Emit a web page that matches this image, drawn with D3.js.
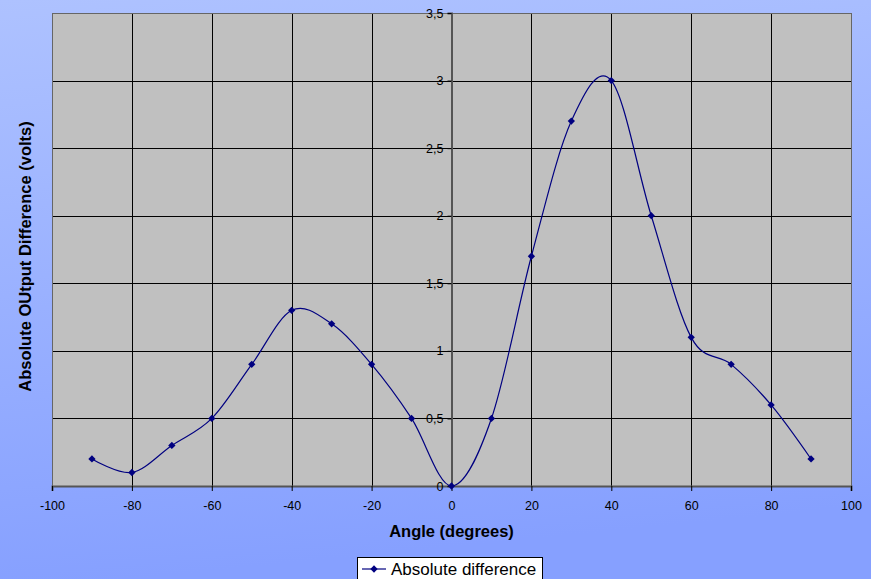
<!DOCTYPE html>
<html>
<head>
<meta charset="utf-8">
<script src="https://cdn.jsdelivr.net/npm/d3@7"></script>
<style>
    html, body { margin: 0; padding: 0; }
    body { width: 871px; height: 579px; overflow: hidden; }
    text { font-family: "Liberation Sans", Arial, sans-serif; }
</style>
</head>
<body>
<div id="chart"></div>
<script>
    // Values
    let angles = [-90, -80, -70, -60, -50, -40, -30, -20, -10, 0, 10, 20, 30, 40, 50, 60, 70, 80, 90];
    let absDiff = [0.2, 0.1, 0.3, 0.5, 0.9, 1.3, 1.2, 0.9, 0.5, 0, 0.5, 1.7, 2.7, 3.0, 2.0, 1.1, 0.9, 0.6, 0.2];
    let xTicks = [-100, -80, -60, -40, -20, 0, 20, 40, 60, 80, 100];
    let yTicks = [0, 0.5, 1, 1.5, 2, 2.5, 3, 3.5];

    let data = angles.map((a, i) => ({ x: a, y: absDiff[i] }));

    let size = { width: 871, height: 579 };
    let plot = { left: 52, right: 851, top: 13, bottom: 486 };
    let font = '"Liberation Sans", Arial, sans-serif';

    let svg = d3.select('#chart').append('svg')
        .attr('width', size.width)
        .attr('height', size.height);

    let grad = svg.append('defs').append('linearGradient')
        .attr('id', 'bg')
        .attr('x1', 0).attr('y1', 0).attr('x2', 0.15).attr('y2', 1);
    grad.append('stop').attr('offset', '0%').attr('stop-color', '#aec2ff');
    grad.append('stop').attr('offset', '100%').attr('stop-color', '#86a0ff');

    svg.append('rect')
        .attr('width', size.width).attr('height', size.height)
        .attr('fill', 'url(#bg)');

    let xScale = d3.scaleLinear().domain([-100, 100]).range([plot.left, plot.right]);
    let yScale = d3.scaleLinear().domain([0, 3.5]).range([plot.bottom, plot.top]);

    // plot area
    svg.append('rect')
        .attr('x', plot.left).attr('y', plot.top)
        .attr('width', plot.right - plot.left).attr('height', plot.bottom - plot.top)
        .attr('fill', '#c0c0c0');

    let grid = svg.append('g').attr('shape-rendering', 'crispEdges');
    grid.selectAll('line.h').data(yTicks.filter(d => d > 0 && d < 3.5)).join('line')
        .attr('x1', plot.left).attr('x2', plot.right)
        .attr('y1', d => Math.round(yScale(d)) + 0.5).attr('y2', d => Math.round(yScale(d)) + 0.5)
        .attr('stroke', '#000');
    grid.selectAll('line.v').data(xTicks.filter(d => d > -100 && d < 100 && d !== 0)).join('line')
        .attr('y1', plot.top).attr('y2', plot.bottom)
        .attr('x1', d => Math.round(xScale(d)) + 0.5).attr('x2', d => Math.round(xScale(d)) + 0.5)
        .attr('stroke', '#000');

    // border
    svg.append('rect')
        .attr('x', plot.left + 0.5).attr('y', plot.top + 0.5)
        .attr('width', plot.right - plot.left).attr('height', plot.bottom - plot.top)
        .attr('fill', 'none').attr('stroke', '#666').attr('stroke-width', 1)
        .attr('shape-rendering', 'crispEdges');

    // x axis along the bottom
    let xAxis = svg.append('g')
        .attr('transform', `translate(0,${plot.bottom})`)
        .call(d3.axisBottom(xScale).tickValues(xTicks).tickSize(5).tickPadding(10)
            .tickFormat(d => String(d)));
    xAxis.select('.domain').attr('stroke', '#555').attr('stroke-width', 2);
    xAxis.selectAll('.tick line').attr('stroke', '#000');
    xAxis.selectAll('text').attr('font-size', 12.5).attr('fill', '#000')
        .attr('font-family', font);

    // y axis crossing at 0
    let yAxis = svg.append('g')
        .attr('transform', `translate(${xScale(0)},0)`)
        .call(d3.axisLeft(yScale).tickValues(yTicks).tickSize(4).tickPadding(4)
            .tickFormat(d => String(d).replace('.', ',')));
    yAxis.select('.domain').attr('stroke', '#555').attr('stroke-width', 2);
    yAxis.selectAll('.tick line').attr('stroke', '#000');
    yAxis.selectAll('text').attr('font-size', 12.5).attr('fill', '#000')
        .attr('font-family', font);

    // series
    let line = d3.line()
        .curve(d3.curveCardinal.tension(0))
        .x(d => xScale(d.x))
        .y(d => yScale(d.y));

    svg.append('path')
        .attr('d', line(data))
        .attr('fill', 'none')
        .attr('stroke', '#000080')
        .attr('stroke-width', 1.2);

    let diamond = d3.symbol().type(d3.symbolDiamond2).size(34);
    svg.selectAll('path.pt').data(data).join('path')
        .attr('class', 'pt')
        .attr('d', diamond)
        .attr('transform', d => `translate(${xScale(d.x)},${yScale(d.y)})`)
        .attr('fill', '#000080');

    // axis titles
    svg.append('text')
        .attr('x', (plot.left + plot.right) / 2).attr('y', 537)
        .attr('text-anchor', 'middle')
        .attr('font-size', 16.5).attr('font-weight', 'bold')
        .text('Angle (degrees)');

    svg.append('text')
        .attr('transform', `translate(31,${(plot.top + plot.bottom) / 2 + 7}) rotate(-90)`)
        .attr('text-anchor', 'middle')
        .attr('font-size', 16.5).attr('font-weight', 'bold')
        .text('Absolute OUtput Difference (volts)');

    // legend
    let legend = svg.append('g').attr('transform', 'translate(357,557)');
    legend.append('rect')
        .attr('x', 0.5).attr('y', 0.5).attr('width', 185).attr('height', 26)
        .attr('fill', '#fff').attr('stroke', '#000');
    legend.append('line')
        .attr('x1', 5).attr('x2', 29).attr('y1', 12).attr('y2', 12)
        .attr('stroke', '#000080').attr('stroke-width', 1.2);
    legend.append('path')
        .attr('d', diamond)
        .attr('transform', 'translate(17,12)')
        .attr('fill', '#000080');
    legend.append('text')
        .attr('x', 34).attr('y', 18)
        .attr('font-size', 17)
        .text('Absolute difference');
</script>
</body>
</html>
